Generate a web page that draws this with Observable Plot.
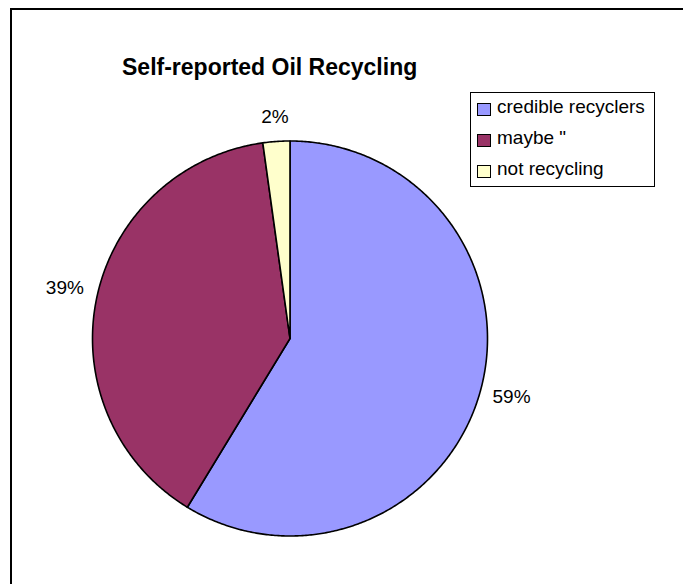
<!DOCTYPE html>
<html>
<head>
<meta charset="utf-8">
<script src="https://cdn.jsdelivr.net/npm/d3@7"></script>
<script src="https://cdn.jsdelivr.net/npm/@observablehq/plot@0.6"></script>
<style>
  html, body { margin: 0; padding: 0; background: #fff; }
  #wrap { position: relative; width: 683px; height: 584px; overflow: hidden; font-family: Arial, "Liberation Sans", sans-serif; }
  #chart { position: absolute; left: 0; top: 0; }
  .border-top { position: absolute; left: 10px; right: 0; top: 8px; height: 2px; background: #000; }
  .border-left { position: absolute; left: 10px; top: 8px; bottom: 0; width: 2px; background: #000; }
  #title { position: absolute; left: 122px; top: 55.5px; font-size: 23px; line-height: 23px; font-weight: bold; white-space: nowrap; color: #000; }
  #legend { position: absolute; left: 470px; top: 92px; width: 183px; height: 93px; border: 1px solid #000; background: #fff; }
  .lg-sw { position: absolute; left: 6px; width: 12px; height: 11px; border: 1px solid #000; }
  .lg-tx { position: absolute; left: 26px; font-size: 19px; line-height: 19px; white-space: nowrap; color: #000; }
</style>
</head>
<body>
<div id="wrap">
  <div id="chart"></div>
  <div class="border-top"></div>
  <div class="border-left"></div>
  <div id="title"></div>
  <div id="legend"></div>
</div>
<script>
// ---- data ----
const chartTitle = "Self-reported Oil Recycling";
const categories = ["credible recyclers", "maybe \"", "not recycling"];
const shares = [58.7, 39.1, 2.2];
const percentLabels = ["59%", "39%", "2%"];
const colors = ["#9999FF", "#993366", "#FFFFCC"];

// ---- layout config ----
const W = 683, H = 584;
const R = 197.5;              // pie radius in px
const cx = 289.5, cy = 338;   // pie centre in px

const total = d3.sum(shares);
let acc = 0;
const slices = categories.map((key, i) => {
  const a0 = acc / total * 2 * Math.PI;
  acc += shares[i];
  const a1 = acc / total * 2 * Math.PI;
  return {key, a0, a1, label: percentLabels[i]};
});

// polygon outline for each slice (centre -> arc -> centre), clockwise from 12 o'clock
const outline = [];
for (const s of slices) {
  const n = Math.max(2, Math.ceil((s.a1 - s.a0) / (Math.PI / 360)));
  outline.push({key: s.key, x: 0, y: 0});
  for (let j = 0; j <= n; j++) {
    const a = s.a0 + (s.a1 - s.a0) * j / n;
    outline.push({key: s.key, x: Math.sin(a), y: Math.cos(a)});
  }
  outline.push({key: s.key, x: 0, y: 0});
}

// outside-end labels
const labelPos = slices.map(s => {
  const m = (s.a0 + s.a1) / 2;
  const sx = Math.sin(m), cy_ = Math.cos(m);
  const rpx = 210 + 19 * Math.abs(sx) + 6.5 * Math.abs(cy_);
  return {text: s.label, x: sx * rpx / R, y: cy_ * rpx / R};
});

const plot = Plot.plot({
  width: W,
  height: H,
  marginLeft: cx - R,
  marginRight: W - cx - R,
  marginTop: cy - R,
  marginBottom: H - cy - R,
  x: {domain: [-1, 1], axis: null},
  y: {domain: [-1, 1], axis: null},
  color: {domain: categories, range: colors},
  style: {fontFamily: "Arial, 'Liberation Sans', sans-serif", background: "transparent", overflow: "visible"},
  marks: [
    Plot.line(outline, {x: "x", y: "y", z: "key", fill: "key", stroke: "#000", strokeWidth: 1.6, strokeLinejoin: "round", curve: "linear"}),
    Plot.text(labelPos, {x: "x", y: "y", text: "text", fontSize: 19, fill: "#000", textAnchor: "middle", lineAnchor: "middle", dy: -4})
  ]
});
document.getElementById("chart").appendChild(plot);

document.getElementById("title").textContent = chartTitle;

const legend = document.getElementById("legend");
categories.forEach((c, i) => {
  const baseline = 113 + 31 * i - 93; // relative to legend inner box
  const sw = document.createElement("div");
  sw.className = "lg-sw";
  sw.style.top = (baseline - 10.5) + "px";
  sw.style.background = colors[i];
  legend.appendChild(sw);
  const tx = document.createElement("div");
  tx.className = "lg-tx";
  tx.style.top = (baseline - 16.1) + "px";
  tx.textContent = c;
  legend.appendChild(tx);
});
</script>
</body>
</html>
